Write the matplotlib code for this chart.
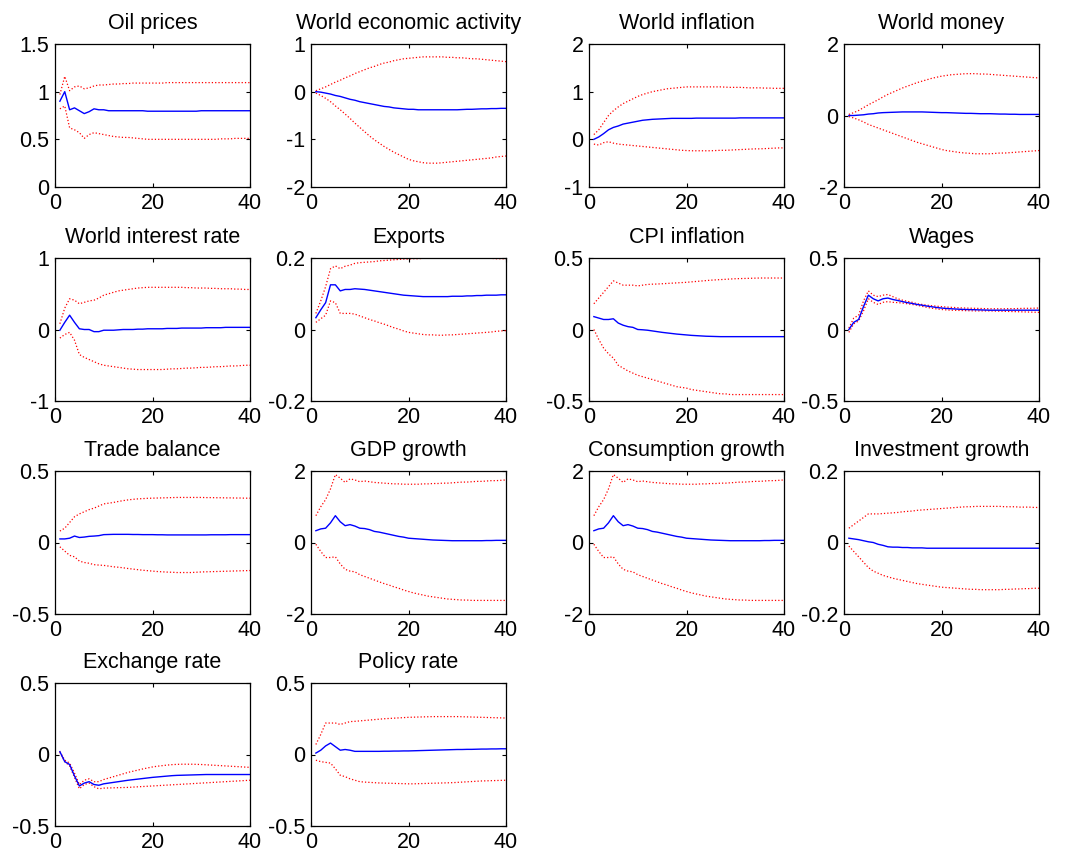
import numpy as np
import matplotlib
matplotlib.use("Agg")
import matplotlib.pyplot as plt

plt.rcParams["font.family"] = ["Liberation Sans", "DejaVu Sans"]

horizon = np.arange(1, 41)

titles = ["Oil prices", "World economic activity", "World inflation", "World money",
          "World interest rate", "Exports", "CPI inflation", "Wages",
          "Trade balance", "GDP growth", "Consumption growth", "Investment growth",
          "Exchange rate", "Policy rate"]

oil_med = [0.90, 1.00, 0.81, 0.83, 0.80, 0.77, 0.79, 0.82, 0.81, 0.81,
           0.80, 0.80, 0.80, 0.80, 0.80, 0.80, 0.80, 0.80, 0.795, 0.795,
           0.795, 0.795, 0.795, 0.795, 0.795, 0.795, 0.795, 0.795, 0.795, 0.80,
           0.80, 0.80, 0.80, 0.80, 0.80, 0.80, 0.80, 0.80, 0.80, 0.80]
oil_hi = [0.97, 1.16, 1.01, 1.05, 1.06, 1.03, 1.04, 1.06, 1.07, 1.07,
          1.075, 1.08, 1.08, 1.085, 1.085, 1.09, 1.09, 1.09, 1.09, 1.09,
          1.09, 1.09, 1.095, 1.095, 1.095, 1.095, 1.095, 1.095, 1.095, 1.095,
          1.095, 1.095, 1.095, 1.095, 1.095, 1.095, 1.095, 1.095, 1.095, 1.095]
oil_lo = [0.82, 0.85, 0.62, 0.60, 0.57, 0.51, 0.55, 0.57, 0.56, 0.55,
          0.54, 0.53, 0.525, 0.52, 0.52, 0.515, 0.51, 0.505, 0.50, 0.50,
          0.50, 0.50, 0.50, 0.50, 0.50, 0.50, 0.50, 0.50, 0.50, 0.50,
          0.50, 0.50, 0.50, 0.505, 0.505, 0.505, 0.51, 0.51, 0.51, 0.51]

wea_med = [0.00, -0.01, -0.03, -0.05, -0.08, -0.10, -0.13, -0.16, -0.18, -0.21,
           -0.23, -0.25, -0.27, -0.29, -0.31, -0.32, -0.34, -0.35, -0.36, -0.37,
           -0.37, -0.38, -0.38, -0.38, -0.38, -0.38, -0.38, -0.38, -0.38, -0.38,
           -0.375, -0.37, -0.37, -0.365, -0.36, -0.36, -0.355, -0.355, -0.35, -0.35]
wea_hi = [0.02, 0.06, 0.10, 0.15, 0.20, 0.24, 0.29, 0.33, 0.38, 0.42,
          0.46, 0.50, 0.53, 0.57, 0.60, 0.62, 0.65, 0.67, 0.69, 0.70,
          0.71, 0.72, 0.73, 0.73, 0.73, 0.73, 0.73, 0.72, 0.72, 0.71,
          0.71, 0.70, 0.69, 0.69, 0.68, 0.67, 0.66, 0.65, 0.64, 0.63]
wea_lo = [-0.03, -0.08, -0.14, -0.21, -0.30, -0.38, -0.47, -0.56, -0.66, -0.75,
          -0.84, -0.93, -1.01, -1.08, -1.15, -1.21, -1.27, -1.32, -1.37, -1.42,
          -1.45, -1.47, -1.49, -1.50, -1.50, -1.50, -1.49, -1.48, -1.47, -1.46,
          -1.45, -1.44, -1.43, -1.42, -1.41, -1.40, -1.39, -1.37, -1.36, -1.35]

winf_med = [0.00, 0.05, 0.12, 0.20, 0.25, 0.28, 0.32, 0.34, 0.36, 0.38,
            0.40, 0.41, 0.42, 0.425, 0.43, 0.435, 0.44, 0.44, 0.44, 0.44,
            0.44, 0.445, 0.445, 0.445, 0.445, 0.445, 0.445, 0.445, 0.445, 0.445,
            0.45, 0.45, 0.45, 0.45, 0.45, 0.45, 0.45, 0.45, 0.45, 0.45]
winf_hi = [0.10, 0.20, 0.35, 0.50, 0.60, 0.68, 0.75, 0.80, 0.85, 0.90,
           0.94, 0.97, 1.00, 1.02, 1.04, 1.06, 1.07, 1.08, 1.09, 1.10,
           1.10, 1.10, 1.10, 1.10, 1.10, 1.10, 1.10, 1.095, 1.09, 1.09,
           1.09, 1.085, 1.08, 1.08, 1.08, 1.075, 1.075, 1.07, 1.07, 1.07]
winf_lo = [-0.10, -0.12, -0.07, -0.05, -0.08, -0.10, -0.11, -0.12, -0.13, -0.14,
           -0.15, -0.16, -0.17, -0.18, -0.19, -0.20, -0.21, -0.22, -0.23, -0.235,
           -0.24, -0.24, -0.24, -0.24, -0.24, -0.235, -0.23, -0.23, -0.225, -0.22,
           -0.215, -0.21, -0.205, -0.20, -0.20, -0.195, -0.19, -0.185, -0.18, -0.18]

wm_med = [0.00, 0.00, 0.01, 0.02, 0.04, 0.05, 0.07, 0.08, 0.085, 0.09,
          0.095, 0.10, 0.10, 0.10, 0.10, 0.10, 0.095, 0.09, 0.085, 0.08,
          0.08, 0.075, 0.07, 0.065, 0.06, 0.06, 0.055, 0.05, 0.05, 0.05,
          0.045, 0.04, 0.04, 0.035, 0.035, 0.03, 0.03, 0.03, 0.03, 0.03]
wm_hi = [0.03, 0.08, 0.14, 0.22, 0.30, 0.37, 0.44, 0.52, 0.59, 0.65,
         0.71, 0.77, 0.82, 0.87, 0.92, 0.96, 1.00, 1.04, 1.07, 1.10,
         1.12, 1.14, 1.15, 1.16, 1.17, 1.17, 1.17, 1.16, 1.16, 1.15,
         1.14, 1.13, 1.12, 1.11, 1.10, 1.09, 1.08, 1.07, 1.06, 1.05]
wm_lo = [-0.03, -0.07, -0.12, -0.18, -0.25, -0.30, -0.35, -0.40, -0.45, -0.50,
         -0.55, -0.60, -0.65, -0.70, -0.75, -0.79, -0.83, -0.87, -0.91, -0.95,
         -0.98, -1.00, -1.02, -1.04, -1.05, -1.06, -1.07, -1.07, -1.07, -1.07,
         -1.06, -1.05, -1.05, -1.04, -1.03, -1.02, -1.01, -1.00, -0.99, -0.98]

wir_med = [-0.01, 0.10, 0.20, 0.10, 0.01, 0.00, 0.00, -0.03, -0.03, -0.01,
           -0.01, -0.01, -0.005, 0.0, 0.0, 0.0, 0.005, 0.005, 0.01, 0.01,
           0.01, 0.01, 0.015, 0.015, 0.015, 0.02, 0.02, 0.02, 0.02, 0.02,
           0.025, 0.025, 0.025, 0.025, 0.03, 0.03, 0.03, 0.03, 0.03, 0.03]
wir_hi = [0.08, 0.30, 0.43, 0.41, 0.36, 0.38, 0.40, 0.41, 0.44, 0.48,
          0.50, 0.52, 0.54, 0.55, 0.56, 0.57, 0.58, 0.585, 0.59, 0.59,
          0.59, 0.59, 0.59, 0.59, 0.59, 0.59, 0.585, 0.585, 0.58, 0.58,
          0.58, 0.575, 0.575, 0.57, 0.57, 0.57, 0.565, 0.565, 0.56, 0.56]
wir_lo = [-0.12, -0.07, -0.04, -0.15, -0.35, -0.39, -0.42, -0.45, -0.48, -0.50,
          -0.51, -0.52, -0.53, -0.54, -0.55, -0.555, -0.56, -0.56, -0.56, -0.56,
          -0.56, -0.56, -0.555, -0.55, -0.55, -0.545, -0.54, -0.54, -0.535, -0.53,
          -0.53, -0.525, -0.52, -0.52, -0.515, -0.51, -0.51, -0.505, -0.50, -0.50]

exp_med = [0.033, 0.055, 0.075, 0.125, 0.125, 0.108, 0.112, 0.112, 0.114, 0.113,
           0.112, 0.110, 0.108, 0.106, 0.104, 0.102, 0.100, 0.098, 0.096, 0.095,
           0.094, 0.093, 0.092, 0.092, 0.092, 0.092, 0.092, 0.092, 0.093, 0.093,
           0.093, 0.094, 0.094, 0.095, 0.095, 0.096, 0.096, 0.096, 0.097, 0.097]
exp_hi = [0.045, 0.080, 0.120, 0.170, 0.178, 0.170, 0.177, 0.180, 0.185, 0.187,
          0.188, 0.189, 0.190, 0.192, 0.193, 0.194, 0.195, 0.196, 0.197, 0.197,
          0.198, 0.198, 0.199, 0.199, 0.200, 0.200, 0.200, 0.200, 0.200, 0.200,
          0.200, 0.200, 0.200, 0.200, 0.199, 0.199, 0.199, 0.198, 0.198, 0.198]
exp_lo = [0.020, 0.030, 0.040, 0.080, 0.075, 0.045, 0.045, 0.045, 0.043, 0.038,
          0.033, 0.028, 0.024, 0.019, 0.015, 0.010, 0.005, 0.001, -0.004, -0.008,
          -0.010, -0.012, -0.014, -0.015, -0.015, -0.016, -0.016, -0.015, -0.015, -0.014,
          -0.013, -0.012, -0.011, -0.010, -0.009, -0.008, -0.007, -0.005, -0.004, -0.003]

cpi_med = [0.09, 0.08, 0.07, 0.07, 0.075, 0.045, 0.03, 0.02, 0.015, 0.0,
           -0.002, -0.005, -0.01, -0.015, -0.02, -0.024, -0.028, -0.032, -0.035, -0.038,
           -0.041, -0.043, -0.045, -0.047, -0.048, -0.049, -0.05, -0.05, -0.05, -0.05,
           -0.05, -0.05, -0.05, -0.05, -0.05, -0.05, -0.05, -0.05, -0.05, -0.05]
cpi_hi = [0.18, 0.22, 0.26, 0.30, 0.34, 0.325, 0.31, 0.31, 0.31, 0.305,
          0.31, 0.315, 0.317, 0.318, 0.32, 0.322, 0.324, 0.326, 0.328, 0.33,
          0.333, 0.336, 0.339, 0.342, 0.345, 0.347, 0.349, 0.351, 0.353, 0.355,
          0.356, 0.357, 0.358, 0.359, 0.36, 0.36, 0.36, 0.36, 0.36, 0.36]
cpi_lo = [0.0, -0.07, -0.13, -0.17, -0.20, -0.25, -0.27, -0.29, -0.305, -0.32,
          -0.33, -0.34, -0.35, -0.36, -0.37, -0.38, -0.39, -0.40, -0.405, -0.41,
          -0.42, -0.425, -0.43, -0.435, -0.44, -0.445, -0.45, -0.45, -0.455, -0.455,
          -0.455, -0.455, -0.455, -0.455, -0.455, -0.455, -0.455, -0.455, -0.455, -0.455]

wag_med = [0.0, 0.05, 0.07, 0.16, 0.24, 0.215, 0.20, 0.215, 0.22, 0.21,
           0.203, 0.195, 0.188, 0.182, 0.175, 0.17, 0.164, 0.159, 0.154, 0.15,
           0.147, 0.145, 0.143, 0.141, 0.14, 0.139, 0.138, 0.137, 0.136, 0.135,
           0.135, 0.135, 0.135, 0.135, 0.135, 0.135, 0.135, 0.135, 0.135, 0.135]
wag_hi = [0.01, 0.08, 0.10, 0.20, 0.27, 0.24, 0.23, 0.24, 0.245, 0.23,
          0.215, 0.205, 0.197, 0.19, 0.18, 0.175, 0.17, 0.166, 0.163, 0.16,
          0.157, 0.155, 0.153, 0.151, 0.15, 0.149, 0.148, 0.147, 0.146, 0.145,
          0.145, 0.145, 0.145, 0.146, 0.146, 0.147, 0.148, 0.148, 0.149, 0.15]
wag_lo = [-0.02, 0.04, 0.06, 0.13, 0.215, 0.19, 0.175, 0.19, 0.195, 0.19,
          0.188, 0.185, 0.18, 0.175, 0.17, 0.162, 0.155, 0.149, 0.144, 0.14,
          0.137, 0.135, 0.134, 0.133, 0.132, 0.131, 0.13, 0.13, 0.13, 0.13,
          0.129, 0.128, 0.127, 0.126, 0.125, 0.124, 0.123, 0.122, 0.121, 0.12]

tb_med = [0.025, 0.025, 0.03, 0.045, 0.035, 0.038, 0.043, 0.045, 0.048, 0.055,
          0.056, 0.057, 0.057, 0.057, 0.057, 0.056, 0.056, 0.055, 0.055, 0.055,
          0.054, 0.054, 0.053, 0.053, 0.053, 0.053, 0.053, 0.053, 0.053, 0.053,
          0.053, 0.054, 0.054, 0.054, 0.054, 0.055, 0.055, 0.055, 0.055, 0.055]
tb_hi = [0.08, 0.10, 0.14, 0.18, 0.20, 0.215, 0.23, 0.24, 0.255, 0.27,
         0.275, 0.28, 0.287, 0.293, 0.298, 0.302, 0.305, 0.307, 0.309, 0.31,
         0.311, 0.312, 0.313, 0.314, 0.315, 0.315, 0.315, 0.315, 0.315, 0.315,
         0.314, 0.314, 0.313, 0.313, 0.312, 0.312, 0.311, 0.311, 0.31, 0.31]
tb_lo = [-0.03, -0.06, -0.09, -0.10, -0.13, -0.14, -0.145, -0.155, -0.158, -0.16,
         -0.165, -0.17, -0.173, -0.177, -0.182, -0.186, -0.19, -0.194, -0.197, -0.20,
         -0.203, -0.205, -0.207, -0.208, -0.21, -0.21, -0.21, -0.21, -0.208, -0.206,
         -0.205, -0.204, -0.203, -0.202, -0.201, -0.2, -0.199, -0.198, -0.197, -0.196]

gdp_med = [0.33, 0.38, 0.40, 0.55, 0.75, 0.58, 0.47, 0.50, 0.46, 0.40,
           0.39, 0.36, 0.31, 0.29, 0.26, 0.23, 0.20, 0.17, 0.15, 0.12,
           0.11, 0.10, 0.09, 0.08, 0.07, 0.065, 0.06, 0.055, 0.05, 0.05,
           0.05, 0.05, 0.05, 0.05, 0.05, 0.055, 0.055, 0.06, 0.06, 0.06]
gdp_hi = [0.75, 1.00, 1.20, 1.50, 1.90, 1.80, 1.68, 1.78, 1.75, 1.70,
          1.72, 1.70, 1.68, 1.67, 1.66, 1.65, 1.64, 1.64, 1.63, 1.63,
          1.63, 1.63, 1.64, 1.64, 1.65, 1.65, 1.66, 1.66, 1.67, 1.68,
          1.69, 1.69, 1.70, 1.71, 1.71, 1.72, 1.73, 1.73, 1.74, 1.75]
gdp_lo = [-0.05, -0.25, -0.42, -0.42, -0.40, -0.60, -0.75, -0.80, -0.82, -0.90,
          -0.95, -1.00, -1.05, -1.10, -1.15, -1.19, -1.24, -1.28, -1.33, -1.37,
          -1.41, -1.44, -1.47, -1.50, -1.52, -1.54, -1.56, -1.58, -1.59, -1.60,
          -1.61, -1.61, -1.62, -1.62, -1.62, -1.62, -1.62, -1.62, -1.62, -1.62]

# consumption growth looks the same as GDP growth in the source
con_med = list(gdp_med)
con_hi = list(gdp_hi)
con_lo = list(gdp_lo)

inv_med = [0.012, 0.010, 0.008, 0.005, 0.002, 0.0, -0.005, -0.008, -0.012, -0.013,
           -0.013, -0.014, -0.014, -0.015, -0.015, -0.015, -0.016, -0.016, -0.016, -0.016,
           -0.016, -0.016, -0.016, -0.016, -0.016, -0.016, -0.016, -0.016, -0.016, -0.016,
           -0.016, -0.016, -0.016, -0.016, -0.016, -0.016, -0.016, -0.016, -0.016, -0.016]
inv_hi = [0.040, 0.050, 0.060, 0.070, 0.080, 0.080, 0.080, 0.081, 0.082, 0.083,
          0.084, 0.086, 0.087, 0.088, 0.090, 0.091, 0.092, 0.093, 0.094, 0.095,
          0.096, 0.097, 0.098, 0.099, 0.100, 0.100, 0.101, 0.101, 0.101, 0.101,
          0.101, 0.101, 0.100, 0.100, 0.100, 0.099, 0.099, 0.099, 0.098, 0.098]
inv_lo = [-0.010, -0.025, -0.040, -0.055, -0.070, -0.080, -0.086, -0.092, -0.096, -0.100,
          -0.103, -0.106, -0.109, -0.112, -0.115, -0.117, -0.119, -0.121, -0.123, -0.125,
          -0.126, -0.127, -0.128, -0.129, -0.130, -0.131, -0.131, -0.132, -0.132, -0.132,
          -0.132, -0.132, -0.131, -0.131, -0.130, -0.130, -0.129, -0.129, -0.128, -0.128]

er_med = [0.02, -0.05, -0.07, -0.15, -0.22, -0.20, -0.19, -0.21, -0.215, -0.205,
          -0.20, -0.195, -0.19, -0.185, -0.18, -0.176, -0.172, -0.168, -0.164, -0.16,
          -0.157, -0.154, -0.151, -0.148, -0.146, -0.145, -0.144, -0.143, -0.142, -0.141,
          -0.14, -0.14, -0.14, -0.14, -0.14, -0.14, -0.14, -0.14, -0.14, -0.14]
er_hi = [0.02, -0.04, -0.06, -0.13, -0.21, -0.18, -0.17, -0.19, -0.19, -0.175,
         -0.165, -0.155, -0.145, -0.135, -0.125, -0.117, -0.109, -0.101, -0.094, -0.087,
         -0.082, -0.078, -0.074, -0.071, -0.069, -0.068, -0.068, -0.068, -0.069, -0.07,
         -0.072, -0.074, -0.076, -0.078, -0.08, -0.082, -0.084, -0.086, -0.088, -0.09]
er_lo = [0.015, -0.05, -0.08, -0.16, -0.24, -0.21, -0.20, -0.225, -0.24, -0.235,
         -0.234, -0.233, -0.232, -0.231, -0.23, -0.228, -0.226, -0.224, -0.222, -0.22,
         -0.218, -0.216, -0.214, -0.212, -0.21, -0.208, -0.206, -0.204, -0.202, -0.2,
         -0.198, -0.196, -0.194, -0.192, -0.19, -0.188, -0.186, -0.184, -0.182, -0.18]

pr_med = [0.01, 0.03, 0.06, 0.08, 0.055, 0.03, 0.035, 0.03, 0.022, 0.022,
          0.022, 0.022, 0.022, 0.022, 0.023, 0.023, 0.024, 0.024, 0.025, 0.025,
          0.026, 0.027, 0.028, 0.029, 0.03, 0.031, 0.032, 0.033, 0.034, 0.035,
          0.035, 0.036, 0.036, 0.037, 0.038, 0.038, 0.039, 0.039, 0.04, 0.04]
pr_hi = [0.07, 0.14, 0.22, 0.22, 0.22, 0.21, 0.22, 0.23, 0.232, 0.235,
         0.238, 0.241, 0.244, 0.247, 0.25, 0.252, 0.254, 0.256, 0.258, 0.26,
         0.261, 0.262, 0.263, 0.264, 0.265, 0.265, 0.265, 0.265, 0.265, 0.265,
         0.264, 0.263, 0.262, 0.261, 0.26, 0.259, 0.258, 0.257, 0.256, 0.255]
pr_lo = [-0.04, -0.05, -0.055, -0.06, -0.10, -0.145, -0.155, -0.17, -0.18, -0.19,
         -0.193, -0.195, -0.197, -0.199, -0.2, -0.201, -0.202, -0.203, -0.204, -0.205,
         -0.205, -0.204, -0.203, -0.202, -0.201, -0.2, -0.199, -0.198, -0.197, -0.195,
         -0.193, -0.191, -0.189, -0.187, -0.185, -0.184, -0.183, -0.182, -0.181, -0.18]

yticks = [[0, 0.5, 1, 1.5], [-2, -1, 0, 1], [-1, 0, 1, 2], [-2, 0, 2],
          [-1, 0, 1], [-0.2, 0, 0.2], [-0.5, 0, 0.5], [-0.5, 0, 0.5],
          [-0.5, 0, 0.5], [-2, 0, 2], [-2, 0, 2], [-0.2, 0, 0.2],
          [-0.5, 0, 0.5], [-0.5, 0, 0.5]]
yticklabels = [["0", "0.5", "1", "1.5"], ["-2", "-1", "0", "1"], ["-1", "0", "1", "2"],
               ["-2", "0", "2"], ["-1", "0", "1"], ["-0.2", "0", "0.2"],
               ["-0.5", "0", "0.5"], ["-0.5", "0", "0.5"], ["-0.5", "0", "0.5"],
               ["-2", "0", "2"], ["-2", "0", "2"], ["-0.2", "0", "0.2"],
               ["-0.5", "0", "0.5"], ["-0.5", "0", "0.5"]]

series = [(oil_med, oil_lo, oil_hi), (wea_med, wea_lo, wea_hi),
          (winf_med, winf_lo, winf_hi), (wm_med, wm_lo, wm_hi),
          (wir_med, wir_lo, wir_hi), (exp_med, exp_lo, exp_hi),
          (cpi_med, cpi_lo, cpi_hi), (wag_med, wag_lo, wag_hi),
          (tb_med, tb_lo, tb_hi), (gdp_med, gdp_lo, gdp_hi),
          (con_med, con_lo, con_hi), (inv_med, inv_lo, inv_hi),
          (er_med, er_lo, er_hi), (pr_med, pr_lo, pr_hi)]

W, H = 1087, 859
fig = plt.figure(figsize=(W / 100, H / 100), dpi=100)

col_left = [55, 311, 589, 844]
row_top = [44, 258, 471, 683]
ax_w, ax_h = 195, 143

for i, (title, (med, lo, hi)) in enumerate(zip(titles, series)):
    r, c = divmod(i, 4)
    ax = fig.add_axes([col_left[c] / W, 1 - (row_top[r] + ax_h) / H, ax_w / W, ax_h / H])
    ax.plot(horizon, hi, color="red", linestyle=":", linewidth=0.9)
    ax.plot(horizon, lo, color="red", linestyle=":", linewidth=0.9)
    ax.plot(horizon, med, color="blue", linewidth=1.0)
    ax.set_xlim(0, 40)
    ax.set_ylim(yticks[i][0], yticks[i][-1])
    ax.set_xticks([0, 20, 40])
    ax.set_yticks(yticks[i])
    ax.set_yticklabels(yticklabels[i])
    ax.tick_params(direction="in", length=3, width=0.8, labelsize=15.5,
                   top=True, right=True, pad=4)
    for s in ax.spines.values():
        s.set_linewidth(0.9)
    ax.set_title(title, fontsize=15.5, pad=11)

fig.savefig("out.png", dpi=100)
